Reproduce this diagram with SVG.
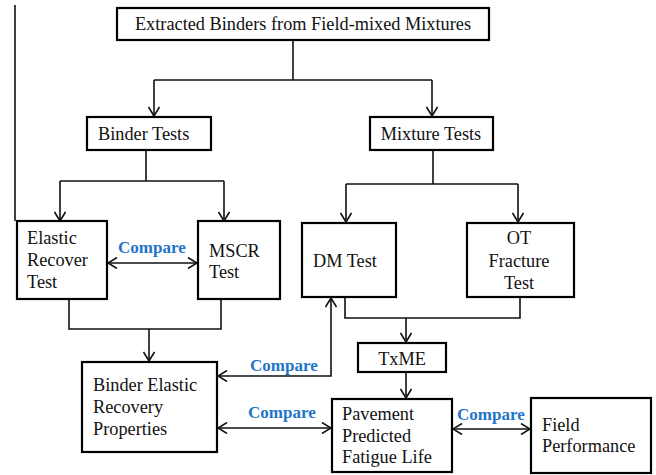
<svg xmlns="http://www.w3.org/2000/svg" width="656" height="475" viewBox="0 0 656 475">
<style>
.box{fill:#fff;stroke:#000;stroke-width:2.2}
.t{font-family:"Liberation Serif","Times New Roman",serif;font-size:18.3px;fill:#111}
.c{font-family:"Liberation Serif","Times New Roman",serif;font-size:17px;font-weight:bold;fill:#1f75c8}
.ln{fill:none;stroke:#111;stroke-width:1.6}
</style>
<defs>
<marker id="ah" viewBox="-10 -6 11 12" refX="0" refY="0" markerWidth="11" markerHeight="12" markerUnits="userSpaceOnUse" orient="auto-start-reverse">
<path d="M-9,-5.5 L0,0 L-9,5.5" fill="none" stroke="#111" stroke-width="1.6"/>
</marker>
</defs>
<g id="connectors">
<line class="ln" x1="15" y1="5" x2="15" y2="221" stroke="#555"/>
<path class="ln" d="M293,40 V80 M154,80 H432"/>
<path class="ln" d="M154,80 V116" marker-end="url(#ah)"/>
<path class="ln" d="M432,80 V116" marker-end="url(#ah)"/>
<path class="ln" d="M146,150 V181 M60,181 H224"/>
<path class="ln" d="M60,181 V221" marker-end="url(#ah)"/>
<path class="ln" d="M224,181 V221" marker-end="url(#ah)"/>
<path class="ln" d="M433,150 V184 M346,184 H518"/>
<path class="ln" d="M346,184 V222" marker-end="url(#ah)"/>
<path class="ln" d="M518,184 V222" marker-end="url(#ah)"/>
<path class="ln" d="M108,263 H197" marker-start="url(#ah)" marker-end="url(#ah)"/>
<path class="ln" d="M69,299 V329 H221 V299"/>
<path class="ln" d="M149,329 V361" marker-end="url(#ah)"/>
<path class="ln" d="M345,297 V318 H520 V297"/>
<path class="ln" d="M406,318 V342" marker-end="url(#ah)"/>
<path class="ln" d="M406,372 V398" marker-end="url(#ah)"/>
<path class="ln" d="M331,298 V376 H218" marker-start="url(#ah)" marker-end="url(#ah)"/>
<path class="ln" d="M218,428 H331" marker-start="url(#ah)" marker-end="url(#ah)"/>
<path class="ln" d="M453,429 H530" marker-start="url(#ah)" marker-end="url(#ah)"/>
<text class="c" x="118" y="253">Compare</text>
<text class="c" x="250" y="371">Compare</text>
<text class="c" x="248" y="418">Compare</text>
<text class="c" x="457" y="420">Compare</text>
</g>
<g id="top"><rect class="box" x="117" y="8" width="372" height="32"/><text class="t" x="303" y="30" text-anchor="middle">Extracted Binders from Field-mixed Mixtures</text></g>
<g id="binder-tests"><rect class="box" x="87" y="117" width="124" height="33"/><text class="t" x="98" y="140">Binder Tests</text></g>
<g id="mixture-tests"><rect class="box" x="370" y="117" width="123" height="33"/><text class="t" x="431" y="140" text-anchor="middle">Mixture Tests</text></g>
<g id="elastic"><rect class="box" x="17" y="221" width="90" height="78"/><text class="t" x="27" y="244">Elastic</text><text class="t" x="27" y="266">Recover</text><text class="t" x="27" y="288">Test</text></g>
<g id="mscr"><rect class="box" x="198" y="221" width="82" height="78"/><text class="t" x="209" y="257">MSCR</text><text class="t" x="209" y="278">Test</text></g>
<g id="dm"><rect class="box" x="302" y="223" width="94" height="74"/><text class="t" x="313" y="267">DM Test</text></g>
<g id="ot"><rect class="box" x="467" y="223" width="107" height="74"/><text class="t" x="519" y="244" text-anchor="middle">OT</text><text class="t" x="519" y="267" text-anchor="middle">Fracture</text><text class="t" x="519" y="289" text-anchor="middle">Test</text></g>
<g id="txme"><rect class="box" x="358" y="343" width="88" height="29"/><text class="t" x="402" y="365" text-anchor="middle">TxME</text></g>
<g id="binder-elastic"><rect class="box" x="82" y="362" width="135" height="90"/><text class="t" x="93" y="391">Binder Elastic</text><text class="t" x="93" y="413">Recovery</text><text class="t" x="93" y="435">Properties</text></g>
<g id="pavement"><rect class="box" x="332" y="399" width="120" height="73"/><text class="t" x="342" y="420">Pavement</text><text class="t" x="342" y="442">Predicted</text><text class="t" x="342" y="463">Fatigue Life</text></g>
<g id="field"><rect class="box" x="531" y="398" width="120" height="75"/><text class="t" x="542" y="431">Field</text><text class="t" x="542" y="452">Performance</text></g>
</svg>
